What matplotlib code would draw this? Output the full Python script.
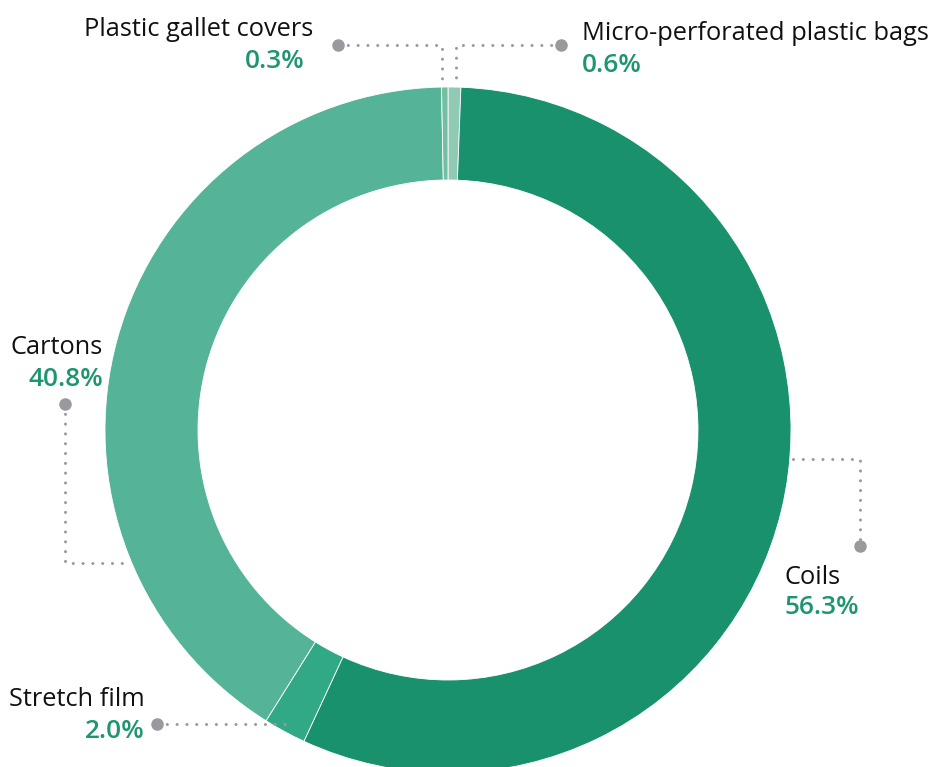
import matplotlib.pyplot as plt

# packaging share, clockwise from 12 o'clock
labels = ['Micro-perforated plastic bags', 'Coils', 'Stretch film', 'Cartons', 'Plastic gallet covers']
shares = [0.6, 56.3, 2.0, 40.8, 0.3]
colors = ['#8fcab5', '#1a916d', '#31a987', '#55b498', '#74bea3']

W, H = 935, 767
GREEN = '#1c9570'
GREY = '#9a9a9e'

plt.rcParams['font.family'] = ['Open Sans', 'DejaVu Sans']

fig = plt.figure(figsize=(W / 100, H / 100), dpi=100)
ax = fig.add_axes([0, 0, 1, 1])


def px(x, y):
    # pixel coords (origin top-left) -> data coords
    return x, H - y


cx, cy = px(448, 430)
ax.pie(shares, colors=colors, startangle=90, counterclock=False,
       center=(cx, cy), radius=343, frame=True,
       wedgeprops=dict(width=93, edgecolor='white', linewidth=0.6))


def leader(points, dot):
    xs, ys = zip(*[px(*p) for p in points])
    ax.plot(xs, ys, color=GREY, lw=2.2, linestyle=(0, (0.01, 3.2)),
            dash_capstyle='round', zorder=3)
    dx, dy = px(*dot)
    ax.plot(dx, dy, 'o', color=GREY, ms=8, zorder=4)


def label(x, y, name, pct, ha, x2=None, gap=32):
    if x2 is None:
        x2 = x
    ax.text(*px(x, y + 2), name, ha=ha, va='center', fontsize=18.3,
            color='#111111')
    ax.text(*px(x2, y + gap + 2), f'{pct}%', ha=ha, va='center', fontsize=18.8,
            color=GREEN, fontweight='semibold')


leader([(338, 45), (442, 45), (442, 86)], (338, 45))
leader([(561, 45), (456, 45), (456, 86)], (561, 45))
leader([(65, 404), (65, 563), (127, 563)], (65, 404))
leader([(793, 459), (860, 459), (860, 546)], (860, 546))
leader([(157, 724), (287, 724)], (157, 724))

label(313, 28, labels[4], shares[4], 'right', x2=305)
label(582, 32, labels[0], shares[0], 'left', gap=31)
label(103, 346, labels[3], shares[3], 'right')
label(785, 575, labels[1], shares[1], 'left', gap=31)
label(145, 697, labels[2], shares[2], 'right', gap=33)

ax.set_xlim(0, W)
ax.set_ylim(0, H)
ax.set_aspect('equal')
ax.axis('off')

fig.savefig('out.png', dpi=100)
